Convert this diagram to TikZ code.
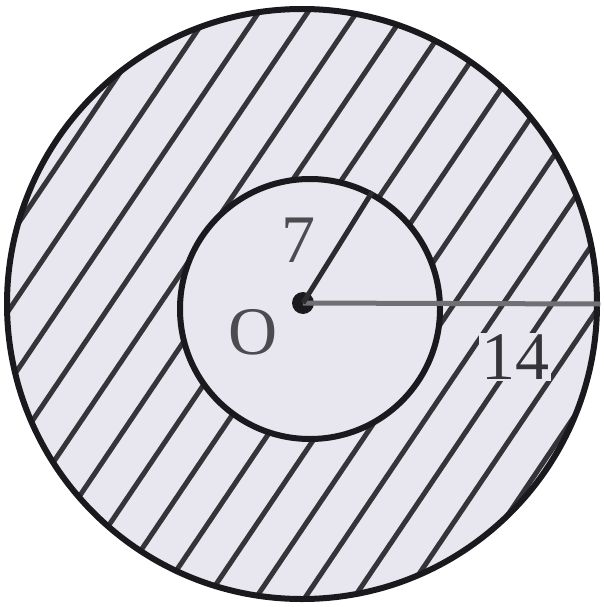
\documentclass[tikz,border=0pt]{standalone}
\usepackage{fontspec}
\setmainfont{Liberation Serif}
\definecolor{bg}{RGB}{232,230,238}
\definecolor{ink}{RGB}{25,25,30}
\begin{document}
\begin{tikzpicture}[x=1pt,y=-1pt,
  hatch/.style={ink!88, line width=5pt},
  rim/.style={ink, line width=6pt},
  lab/.style={font=\fontsize{68}{68}\selectfont, inner sep=1pt, text=ink!78}]
\useasboundingbox (0,0) rectangle (604,607);
\fill[white] (0,0) rectangle (604,607);
\coordinate (C) at (302,304);
\fill[bg] (C) circle (296);
\begin{scope}
  \clip (C) circle (296);
  \foreach \n in {-4,...,16} {
    \pgfmathsetmacro{\c}{169+49*\n}
    \draw[hatch] (\c+6.7,-10) -- (\c-418,620);
  }
\end{scope}
\node[circle, draw=ink, line width=6pt, minimum size=590pt, inner sep=0] (outer) at (C) {};
\node[circle, fill=bg, draw=ink, line width=6pt, minimum size=260pt, inner sep=0] (inner) at (310,309) {};
\node[circle, fill=ink, minimum size=22pt, inner sep=0] (dot) at (303,303) {};
\draw[ink!62, line width=5pt] (dot.center) -- (outer.east);
\draw[ink!92, line width=5pt] (dot.center) -- (inner.62);
\node[lab] (seven) at (298,240) {7};
\node[lab] (O) at (253,332) {O};
\node[lab, text=ink!88, fill=bg, inner sep=2pt] (fourteen) at (515,357) {14};
\end{tikzpicture}
\end{document}
